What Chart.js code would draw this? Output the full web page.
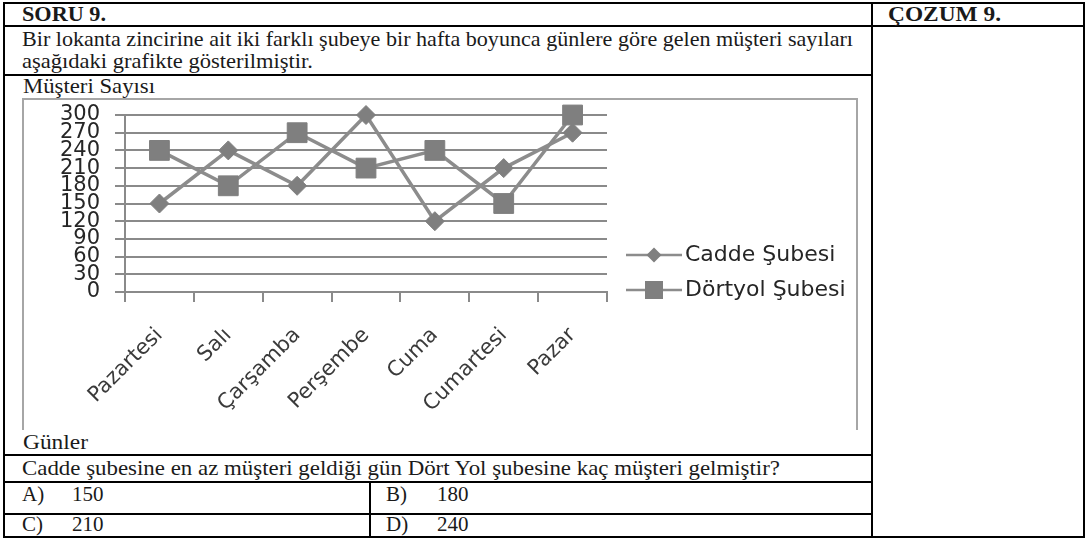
<!DOCTYPE html>
<html lang="tr">
<head>
<meta charset="utf-8">
<title>Soru 9</title>
<script src="https://cdn.jsdelivr.net/npm/chart.js@4.4.1/dist/chart.umd.min.js"></script>
<style>
html,body{margin:0;padding:0;background:#fff;}
body{width:1086px;height:541px;position:relative;overflow:hidden;font-family:"Liberation Serif","Times New Roman",serif;}
.ln{position:absolute;background:#000;}
.cb{position:absolute;background:#a6a6a6;}
.t{position:absolute;white-space:nowrap;font-size:21px;line-height:22px;color:#1a1a1a;transform-origin:0 50%;}
.b{font-weight:bold;}
#wrap{position:absolute;left:24px;top:100px;width:832px;height:330px;}
</style>
</head>
<body>
<!-- table borders -->
<div class="ln" style="left:3px;top:2px;width:1082px;height:2px"></div>
<div class="ln" style="left:3px;top:536px;width:1082px;height:2px"></div>
<div class="ln" style="left:3px;top:2px;width:2px;height:536px"></div>
<div class="ln" style="left:1083px;top:2px;width:2px;height:536px"></div>
<div class="ln" style="left:871px;top:2px;width:2px;height:536px"></div>
<div class="ln" style="left:3px;top:25px;width:1082px;height:2px"></div>
<div class="ln" style="left:3px;top:74px;width:869px;height:2px"></div>
<div class="ln" style="left:3px;top:454px;width:869px;height:2px"></div>
<div class="ln" style="left:3px;top:481px;width:869px;height:2px"></div>
<div class="ln" style="left:3px;top:513px;width:869px;height:2px"></div>
<div class="ln" style="left:369px;top:482px;width:2px;height:55px"></div>

<!-- chart frame (no bottom edge) -->
<div class="cb" style="left:22px;top:98px;width:2px;height:332px"></div>
<div class="cb" style="left:22px;top:98px;width:836px;height:2px"></div>
<div class="cb" style="left:856px;top:98px;width:2px;height:332px"></div>

<!-- texts -->
<div class="t b fit" data-w="84" style="left:22px;top:14px">SORU 9.</div>
<div class="t b fit" data-w="113" style="left:888px;top:14px">ÇOZUM 9.</div>
<div class="t fit" data-w="831" style="left:22px;top:39px">Bir lokanta zincirine ait iki farklı şubeye bir hafta boyunca günlere göre gelen müşteri sayıları</div>
<div class="t fit" data-w="291" style="left:22px;top:61px">aşağıdaki grafikte gösterilmiştir.</div>
<div class="t fit" data-w="132" style="left:23px;top:86px">Müşteri Sayısı</div>
<div class="t fit" data-w="65" style="left:23px;top:442px">Günler</div>
<div class="t fit" data-w="758" style="left:22px;top:468px">Cadde şubesine en az müşteri geldiği gün Dört Yol şubesine kaç müşteri gelmiştir?</div>
<div class="t" style="left:22px;top:494px">A)</div>
<div class="t" style="left:72px;top:494px">150</div>
<div class="t" style="left:386px;top:494px">B)</div>
<div class="t" style="left:437px;top:494px">180</div>
<div class="t" style="left:22px;top:524px">C)</div>
<div class="t" style="left:72px;top:524px">210</div>
<div class="t" style="left:386px;top:524px">D)</div>
<div class="t" style="left:437px;top:524px">240</div>

<div id="wrap"><canvas id="c" width="832" height="330"></canvas></div>

<script>
// ---- data ----
const days = ['Pazartesi', 'Salı', 'Çarşamba', 'Perşembe', 'Cuma', 'Cumartesi', 'Pazar'];
const caddeSubesi = [150, 240, 180, 300, 120, 210, 270];
const dortyolSubesi = [240, 180, 270, 210, 240, 150, 300];
const yTickValues = [0, 30, 60, 90, 120, 150, 180, 210, 240, 270, 300];
const seriesNames = ['Cadde Şubesi', 'Dörtyol Şubesi'];

// ---- fit texts ----
document.querySelectorAll('.t').forEach(el => {
  let tr = 'translateY(-50%)';
  if (el.classList.contains('fit')) {
    const w = parseFloat(el.dataset.w);
    const a = el.getBoundingClientRect().width;
    if (a > 0) tr += ' scaleX(' + (w / a).toFixed(4) + ')';
  }
  el.style.transform = tr;
});

const GRID = '#8a8a8a';
const LINE = '#8c8c8c';
const MARK = '#7f7f7f';

const sideLegend = {
  id: 'sideLegend',
  afterDraw(chart, args, o) {
    const ctx = chart.ctx;
    ctx.save();
    chart.data.datasets.forEach((ds, i) => {
      const y = o.top + i * o.gap;
      ctx.strokeStyle = ds.borderColor;
      ctx.lineWidth = o.lineWidth;
      ctx.beginPath();
      ctx.moveTo(o.x, y);
      ctx.lineTo(o.x + o.lineLen, y);
      ctx.stroke();
      const cx = o.x + o.lineLen / 2;
      ctx.fillStyle = ds.pointBackgroundColor;
      ctx.beginPath();
      if (ds.pointStyle === 'rectRot') {
        const r = o.diamond;
        ctx.moveTo(cx, y - r); ctx.lineTo(cx + r, y); ctx.lineTo(cx, y + r); ctx.lineTo(cx - r, y);
        ctx.closePath();
      } else {
        const s = o.square;
        ctx.rect(cx - s, y - s, 2 * s, 2 * s);
      }
      ctx.fill();
      ctx.fillStyle = o.color;
      ctx.font = o.font;
      ctx.textBaseline = 'middle';
      ctx.textAlign = 'left';
      ctx.fillText(ds.label, o.x + o.lineLen + o.textGap, y);
    });
    ctx.restore();
  }
};

Chart.defaults.font.family = '"DejaVu Sans", sans-serif';

new Chart(document.getElementById('c'), {
  type: 'line',
  data: {
    labels: days,
    datasets: [
      {
        label: seriesNames[0],
        data: caddeSubesi,
        borderColor: LINE,
        backgroundColor: MARK,
        borderWidth: 3.5,
        pointStyle: 'rectRot',
        pointRadius: 9.5,
        pointHoverRadius: 9.5,
        pointBackgroundColor: MARK,
        pointBorderColor: MARK,
        pointBorderWidth: 1,
        tension: 0,
        clip: false
      },
      {
        label: seriesNames[1],
        data: dortyolSubesi,
        borderColor: LINE,
        backgroundColor: MARK,
        borderWidth: 3.5,
        pointStyle: 'rect',
        pointRadius: 14,
        pointHoverRadius: 14,
        pointBackgroundColor: MARK,
        pointBorderColor: MARK,
        pointBorderWidth: 1,
        tension: 0,
        clip: false
      }
    ]
  },
  options: {
    responsive: false,
    animation: false,
    events: [],
    layout: { padding: { top: 12, right: 249, left: 0, bottom: 0 } },
    plugins: {
      legend: { display: false },
      tooltip: { enabled: false },
      sideLegend: {
        x: 602, top: 155, gap: 35, lineLen: 56, lineWidth: 2.5, textGap: 3,
        diamond: 7.5, square: 9, color: '#262626', font: '22px "DejaVu Sans", sans-serif'
      }
    },
    scales: {
      x: {
        type: 'category',
        offset: true,
        grid: { offset: true, drawOnChartArea: false, drawTicks: true, tickLength: 10, color: GRID, lineWidth: 2 },
        border: { display: true, color: GRID, width: 2 },
        ticks: { autoSkip: false, maxRotation: 45, minRotation: 45, padding: 21, color: '#3a3a3a', font: { size: 21 } },
        afterFit(s) { s.height = 138; s.paddingLeft = 0; s.paddingRight = 0; }
      },
      y: {
        type: 'linear',
        min: 0,
        max: 300,
        afterBuildTicks(s) { s.ticks = yTickValues.map(v => ({ value: v })); },
        grid: { color: GRID, lineWidth: 2, drawTicks: true, tickLength: 10 },
        border: { display: true, color: GRID, width: 2 },
        ticks: { autoSkip: false, padding: 15, color: '#262626', font: { size: 21 } },
        afterFit(s) { s.width = 101; s.paddingTop = 0; s.paddingBottom = 0; }
      }
    }
  },
  plugins: [sideLegend]
});
</script>
</body>
</html>
